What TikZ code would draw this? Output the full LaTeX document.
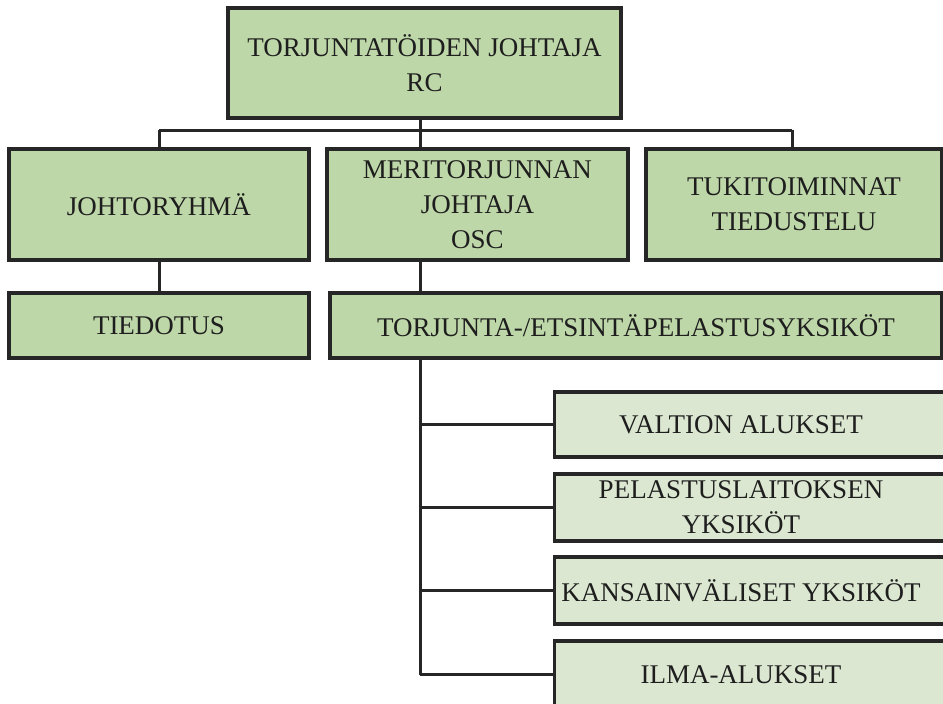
\documentclass[tikz,border=0pt]{standalone}
\usepackage{fontspec}
\setmainfont{Liberation Serif}
\definecolor{mainfill}{HTML}{BED7A8}
\definecolor{subfill}{HTML}{DBE7D0}
\definecolor{linec}{HTML}{262626}
\definecolor{textc}{HTML}{1E1E1E}
\begin{document}
\begin{tikzpicture}[x=1pt,y=-1pt,
  box/.style={draw=linec, line width=3.2pt, fill=mainfill, inner sep=0pt,
    font=\fontsize{27}{35}\selectfont, align=center, text=textc},
  subbox/.style={box, fill=subfill},
  lbl/.style={font=\fontsize{27}{35}\selectfont, align=center, text=textc, inner sep=0pt},
  conn/.style={draw=linec, line width=3pt}]

\useasboundingbox (0,0) rectangle (943,704);
\clip (0,0) rectangle (943,704);

% top level
\node[box, minimum width=393pt, minimum height=110pt] (rc) at (424.5,63)
  {TORJUNTATÖIDEN JOHTAJA\\RC};

% second row
\node[box, minimum width=300pt, minimum height=111pt] (jo) at (159,204.5) {JOHTORYHMÄ};
\node[box, minimum width=301pt, minimum height=111pt] (mer) at (477.5,204.5)
  {MERITORJUNNAN\\JOHTAJA\\OSC};
\node[box, minimum width=296pt, minimum height=111pt] (tu) at (794,204.5)
  {TUKITOIMINNAT\\TIEDUSTELU};

% third row
\node[box, minimum width=612pt, minimum height=65pt] (tes) at (636,325.5)
  {TORJUNTA-/ETSINTÄPELASTUSYKSIKÖT};
\node[box, minimum width=300pt, minimum height=65pt] (ti) at (159,325.5) {TIEDOTUS};

% units (boxes run past the right edge)
\node[subbox, anchor=west, minimum width=420pt, minimum height=65pt] (va) at (553,424.5) {};
\node[subbox, anchor=west, minimum width=420pt, minimum height=67pt] (pe) at (553,507.5) {};
\node[subbox, anchor=west, minimum width=420pt, minimum height=67pt] (ka) at (553,590.5) {};
\node[subbox, anchor=west, minimum width=420pt, minimum height=67pt] (il) at (553,674.5) {};
\node[lbl] (vat) at (741,424.5) {VALTION ALUKSET};
\node[lbl] (pet) at (741,507.5) {PELASTUSLAITOKSEN\\YKSIKÖT};
\node[lbl] (kat) at (741,590.5) {KANSAINVÄLISET YKSIKÖT};
\node[lbl] (ilt) at (741,674.5) {ILMA-ALUKSET};

% connectors
\coordinate (bus) at (420,130);
\coordinate (busr) at (792,130);
\coordinate (spine) at (420,358);
\draw[conn] (rc.south -| bus) -- (bus);
\draw[conn] (jo.north |- bus) -- (busr);
\draw[conn] (jo.north |- bus) -- (jo.north);
\draw[conn] (bus) -- (bus |- mer.north);
\draw[conn] (busr) -- (busr |- tu.north);
\draw[conn] (jo.south) -- (ti.north);
\draw[conn] (bus |- mer.south) -- (bus |- tes.north);
\draw[conn] (spine |- tes.south) -- (spine |- il.west);
\draw[conn] (spine |- va.west) -- (va.west);
\draw[conn] (spine |- pe.west) -- (pe.west);
\draw[conn] (spine |- ka.west) -- (ka.west);
\draw[conn] (spine |- il.west) -- (il.west);
\end{tikzpicture}
\end{document}
